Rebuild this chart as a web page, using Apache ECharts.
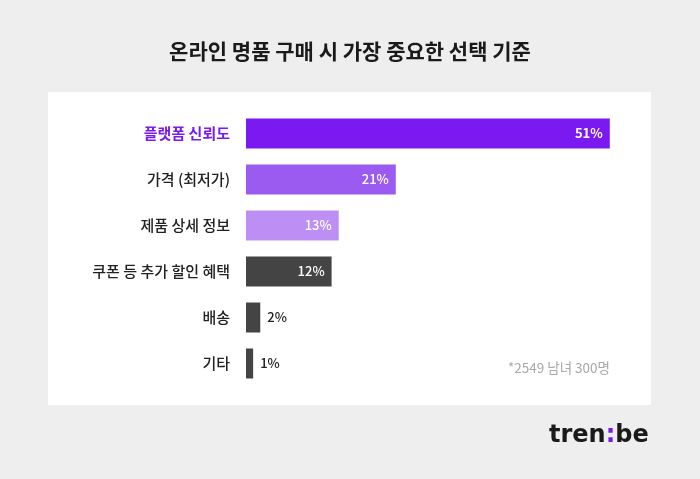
<!DOCTYPE html>
<html><head><meta charset="utf-8">
<script src="https://cdn.jsdelivr.net/npm/echarts@6/dist/echarts.min.js"></script>
<style>html,body{margin:0;padding:0;background:#eeeeee;}#c{width:700px;height:479px;}</style>
</head><body><div id="c"></div>
<script>
const categories = ['플랫폼 신뢰도', '가격 (최저가)', '제품 상세 정보', '쿠폰 등 추가 할인 혜택', '배송', '기타'];
const values = [51, 21, 13, 12, 2, 1];
const barColors = ['#7a1af0', '#9b5bf0', '#bd8ff5', '#444444', '#444444', '#444444'];
const FONT = '"Noto Sans CJK KR", "Noto Sans", sans-serif';

const chart = echarts.init(document.getElementById('c'));
const seriesData = values.map((v, i) => ({
  value: v,
  itemStyle: { color: barColors[i] },
  label: v >= 10
    ? { position: 'insideRight', distance: 7, color: '#ffffff', fontWeight: i === 0 ? 'bold' : 500 }
    : { position: 'right', distance: 7, color: '#222222', fontWeight: 500 }
}));

chart.setOption({
  backgroundColor: '#eeeeee',
  animation: false,
  title: {
    text: '온라인 명품 구매 시 가장 중요한 선택 기준',
    left: 'center', top: 36,
    textStyle: { fontFamily: FONT, fontSize: 21, fontWeight: 'bold', color: '#1a1a1a' }
  },
  graphic: [
    { type: 'rect', z: -10, shape: { x: 48, y: 92, width: 603, height: 313 }, style: { fill: '#ffffff' } },
    { type: 'text', right: 90, top: 361, z: 10,
      style: { text: '*2549 남녀 300명', fill: '#a8a8a8', font: '13.5px ' + FONT } },
    { type: 'text', left: 549, top: 424, z: 10,
      style: { text: '{a|tren}{b|:}{a|be}', rich: {
        a: { fontFamily: 'DejaVu Sans, sans-serif', fontSize: 24, fontWeight: 'bold', fill: '#1a1a1a', color: '#1a1a1a' },
        b: { fontFamily: 'DejaVu Sans, sans-serif', fontSize: 24, fontWeight: 'bold', fill: '#7a1af0', color: '#7a1af0' }
      } } }
  ],
  grid: { left: 246, right: 26, top: 110.5, height: 276, containLabel: false },
  xAxis: { type: 'value', min: 0, max: 60, show: false },
  yAxis: {
    type: 'category', data: categories, inverse: true,
    axisLine: { show: false }, axisTick: { show: false },
    axisLabel: {
      margin: 16, fontFamily: FONT, fontSize: 15, color: '#222222', fontWeight: 500,
      formatter: (v, i) => i === 0 ? '{hl|' + v + '}' : v,
      rich: { hl: { fontFamily: FONT, fontSize: 15, color: '#7a1af0', fontWeight: 'bold' } }
    }
  },
  series: [{
    type: 'bar', data: seriesData, barWidth: 30,
    label: { show: true, formatter: '{c}%', fontFamily: FONT, fontSize: 13 }
  }]
});
</script></body></html>
